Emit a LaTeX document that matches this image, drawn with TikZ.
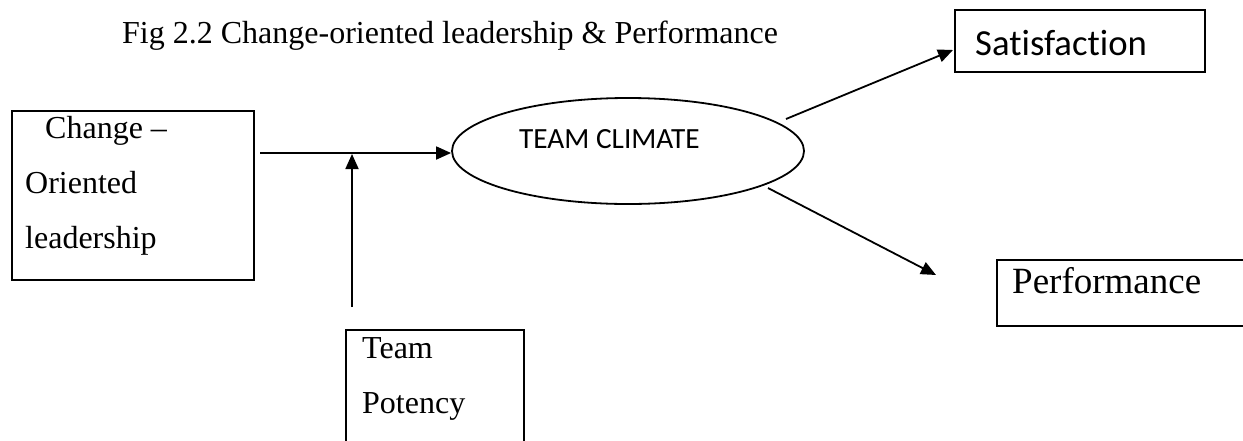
\documentclass[tikz,border=0pt]{standalone}
\usepackage{fontspec}
\setmainfont{Liberation Serif}
\newfontfamily\calfont[RawFeature=-liga]{Carlito}
\usetikzlibrary{arrows.meta,shapes.geometric}
\begin{document}
\begin{tikzpicture}[x=1pt,y=-1pt,
  boxstyle/.style={draw, line width=2.2pt, inner sep=0pt, anchor=north west},
  serif/.style={inner sep=0pt, anchor=base west, font=\fontsize{32}{38}\selectfont},
  calib/.style={inner sep=0pt, anchor=base west},
  arr/.style={line width=1.8pt, -{Triangle[length=15pt,width=13pt]}}]
\useasboundingbox (0,0) rectangle (1243,440);

% title
\node[serif] (title) at (122,43.3) {Fig 2.2 Change-oriented leadership \& Performance};

% change-oriented leadership box
\node[boxstyle, minimum width=242pt, minimum height=169pt] (clbox) at (11,110) {};
\node[serif] (cl1) at (45,138) {Change –};
\node[serif] (cl2) at (25,193) {Oriented};
\node[serif] (cl3) at (25,248) {leadership};

% team potency box
\node[boxstyle, minimum width=178pt, minimum height=140pt] (tpbox) at (345,329) {};
\node[serif] (tp1) at (362,358) {Team};
\node[serif] (tp2) at (362,413) {Potency};

% ellipse
\node[draw, ellipse, line width=1.8pt, inner sep=0pt, minimum width=352pt, minimum height=106pt] (ell) at (628,151) {};
\node[calib, font=\calfont\fontsize{29.3}{34}\selectfont] (tc) at (519,148) {TEAM CLIMATE};

% satisfaction box
\node[boxstyle, minimum width=250pt, minimum height=62pt] (sat) at (954,9) {};
\node[calib, font=\calfont\fontsize{36.7}{42}\selectfont] (sattxt) at (975,55) {Satisfaction};

% performance box (runs past right edge)
\node[boxstyle, minimum width=280pt, minimum height=66pt] (perf) at (996,259) {};
\node[serif, font=\fontsize{37}{44}\selectfont] (perftxt) at (1012,293) {Performance};

% connectors
\coordinate (h0) at (260,153);
\draw[arr] (h0) -- (h0 -| ell.west);
\coordinate (v0) at (352,307);
\coordinate (v1) at (352,154);
\draw[arr] (v0) -- (v1);
\coordinate (s0) at (786,119);
\coordinate (s1) at (953,50);
\draw[arr] (s0) -- (s1);
\coordinate (p0) at (768,188);
\coordinate (p1) at (936,275);
\draw[arr] (p0) -- (p1);
\end{tikzpicture}
\end{document}
